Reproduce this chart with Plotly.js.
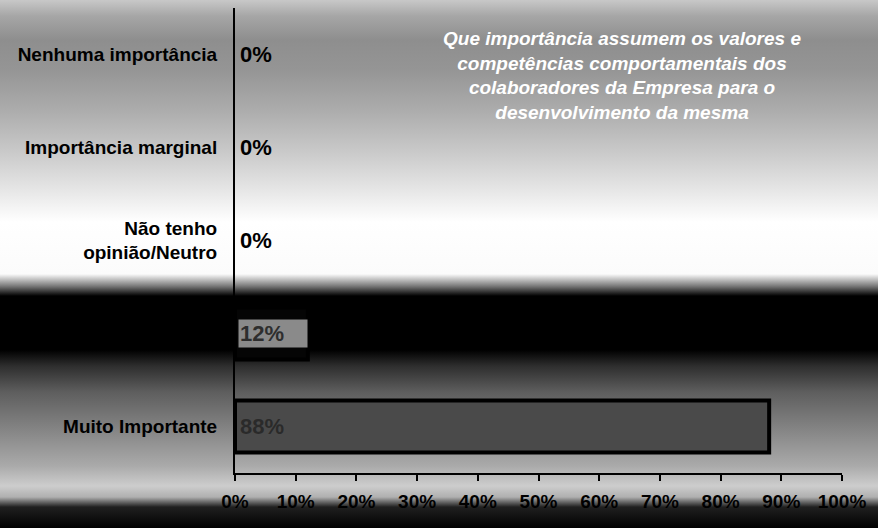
<!DOCTYPE html>
<html>
<head>
<meta charset="utf-8">
<script src="https://cdn.plot.ly/plotly-3.0.1.min.js"></script>
<style>
  html, body { margin: 0; padding: 0; }
  #chart {
    width: 878px; height: 528px;
    background: linear-gradient(to bottom,
      #c8c8c8 0px, #a6a6a6 16px, #8e8e8e 40px, #959595 70px, #acacac 110px,
      #c8c8c8 150px, #e6e6e6 190px, #ffffff 222px, #fbfbfb 274px,
      #7a7a7a 286px, #000000 296px, #000000 350px, #2e2e2e 366px,
      #5e5e5e 392px, #858585 430px, #aaaaaa 466px, #cdcdcd 486px,
      #b0b0b0 497px, #202020 507px, #000000 528px);
  }
</style>
</head>
<body>
<div id="chart"></div>
<script>
// ---- data ----
const categories = ['Nenhuma importância', 'Importância marginal', 'Não tenho<br>opinião/Neutro', 'Importante', 'Muito Importante'];
const values = [0, 0, 0, 12, 88];
const xTicks = [0, 10, 20, 30, 40, 50, 60, 70, 80, 90, 100];
const xTickLabels = xTicks.map(v => v + '%');
const titleText = 'Que importância assumem os valores e<br>competências comportamentais dos<br>colaboradores da Empresa para o<br>desenvolvimento da mesma';

// ---- styles ----
const barColors = ['#4a4a4a', '#4a4a4a', '#4a4a4a', '#050505', '#4a4a4a'];
const labelBg = [null, null, null, '#8a8a8a', null];
const labelBoxWidth = [null, null, null, 66, null];
const labelColor = ['#000000', '#000000', '#000000', '#2e2e2e', '#2a2a2a'];
const FONT = 'Liberation Sans, Arial, sans-serif';

const trace = {
  type: 'bar',
  orientation: 'h',
  x: values,
  y: categories,
  width: 0.56,
  marker: {
    color: barColors,
    line: { color: '#000000', width: values.map(v => (v > 0 ? 4 : 0)) }
  },
  hoverinfo: 'none'
};

const annotations = categories.map((c, i) => {
  const a = {
    x: 0, y: c, xref: 'x', yref: 'y',
    text: values[i] + '%',
    showarrow: false,
    xanchor: 'left', yanchor: 'middle',
    xshift: 3,
    align: 'left',
    bgcolor: labelBg[i] || 'rgba(0,0,0,0)',
    borderpad: 1,
    font: { family: FONT, size: 22, weight: 'bold', color: labelColor[i] }
  };
  if (labelBoxWidth[i]) a.width = labelBoxWidth[i];
  return a;
});

annotations.push({
  text: titleText,
  xref: 'paper', yref: 'paper',
  x: 0.6375, y: 0.962,
  xanchor: 'center', yanchor: 'top',
  align: 'center',
  showarrow: false,
  font: { family: FONT, size: 19, weight: 'bold', style: 'italic', color: '#ffffff' }
});

const layout = {
  width: 878, height: 528,
  margin: { l: 235, r: 36, t: 8, b: 55 },
  paper_bgcolor: 'rgba(0,0,0,0)',
  plot_bgcolor: 'rgba(0,0,0,0)',
  showlegend: false,
  xaxis: {
    range: [0, 100],
    tickvals: xTicks, ticktext: xTickLabels,
    ticks: 'outside', ticklen: 6, tickwidth: 2, tickcolor: '#000',
    showline: true, linecolor: '#000', linewidth: 2,
    showgrid: false, zeroline: false,
    ticklabelstandoff: 4,
    tickfont: { family: FONT, size: 19, weight: 'bold', color: '#000' },
    fixedrange: true
  },
  yaxis: {
    type: 'category',
    autorange: 'reversed',
    showline: true, linecolor: '#000', linewidth: 2,
    ticks: '', showgrid: false, zeroline: false,
    ticklabelstandoff: 12,
    tickfont: { family: FONT, size: 19, weight: 'bold', color: '#000' },
    fixedrange: true
  },
  annotations: annotations
};

Plotly.newPlot('chart', [trace], layout, { displayModeBar: false, staticPlot: true });
</script>
</body>
</html>
